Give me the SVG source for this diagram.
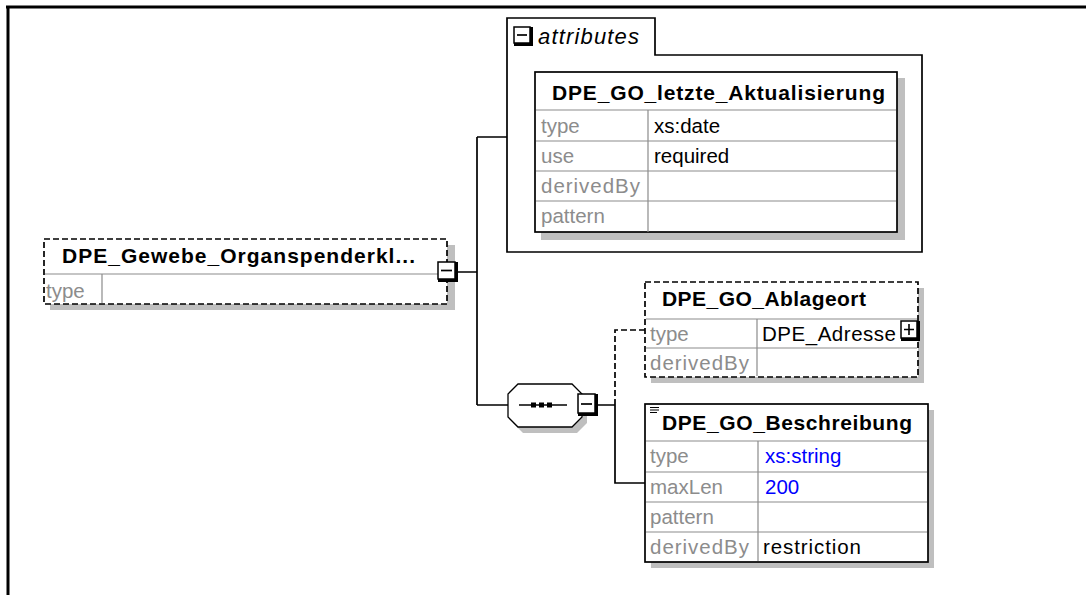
<svg xmlns="http://www.w3.org/2000/svg" width="1086" height="595" viewBox="0 0 1086 595">
<style>
text{font-family:"Liberation Sans",Arial,sans-serif;font-size:20.5px;fill:#000}
.h{font-weight:bold;font-size:21px}
.lbl{fill:#8c8c8c}
.blue{fill:#0000ff}
.box{fill:#fff;stroke:#000;stroke-width:1.7}
.dbox{fill:#fff;stroke:#000;stroke-width:1.7;stroke-dasharray:6 3}
.sh{fill:#bfbfbf}
.grid{stroke:#8c8c8c;stroke-width:1.2;fill:none}
.ln{stroke:#000;stroke-width:1.7;fill:none}
.dln{stroke:#000;stroke-width:1.7;fill:none;stroke-dasharray:6 3}
.btn{fill:#fff;stroke:#000;stroke-width:1.5}
.btnsh{fill:#000}
</style>
<rect width="1086" height="595" fill="#fff"/>
<g id="frame">
<line x1="6" y1="7" x2="1086" y2="7" stroke="#000" stroke-width="3"/>
<line x1="8" y1="6" x2="8" y2="595" stroke="#000" stroke-width="3"/>
</g>
<g id="connectors">
<path class="ln" d="M457,272 H477 M477,137 V405 M477,137 H507 M477,405 H508 M597,405 H615 M615,405 V483 H645"/>
<path class="dln" d="M615,405 V330 H645"/>
</g>
<g id="attributes">
<path d="M507,55 V18 H655 V55 H922 V252 H507 Z" fill="#fff" stroke="#000" stroke-width="1.7"/>
<rect x="514" y="27" width="19" height="19" class="btnsh"/>
<rect x="514" y="27" width="16" height="16" class="btn"/>
<line x1="517" y1="35" x2="527" y2="35" stroke="#000" stroke-width="1.7"/>
<text x="538" y="44" font-style="italic" style="font-size:22px" textLength="101">attributes</text>
</g>
<g id="letzte_Aktualisierung">
<rect x="541" y="78" width="364" height="162" class="sh"/>
<rect x="535" y="72" width="362" height="160" class="box"/>
<path class="grid" d="M536,110 H896 M536,141 H896 M536,171 H896 M536,201 H896 M648,110 V232"/>
<text x="552" y="100" class="h" textLength="333">DPE_GO_letzte_Aktualisierung</text>
<text x="541" y="133" class="lbl">type</text><text x="654" y="133">xs:date</text>
<text x="541" y="163" class="lbl">use</text><text x="654" y="163">required</text>
<text x="541" y="193" class="lbl" textLength="99">derivedBy</text>
<text x="541" y="223" class="lbl">pattern</text>
</g>
<g id="Gewebe_Organspenderkl">
<rect x="50" y="245" width="405" height="65" class="sh"/>
<rect x="44" y="239" width="403" height="65" class="dbox"/>
<path class="grid" d="M45,274 H446 M102,274 V303"/>
<text x="62" y="263" class="h" textLength="353">DPE_Gewebe_Organspenderkl...</text>
<text x="46" y="298" class="lbl">type</text>
<rect x="438" y="262" width="20" height="20" class="btnsh"/>
<rect x="438" y="262" width="17" height="17" class="btn"/>
<line x1="441" y1="270.5" x2="452" y2="270.5" stroke="#000" stroke-width="1.7"/>
</g>
<g id="sequence">
<path d="M523,389 H577 L587,399 V423 L577,433 H523 L513,423 V399 Z" class="sh"/>
<path d="M518,384 H572 L582,394 V417 L572,427 H518 L508,417 V394 Z" fill="#fff" stroke="#000" stroke-width="1.3"/>
<line x1="519" y1="405" x2="567" y2="405" stroke="#000" stroke-width="1.3"/>
<rect x="531" y="402.5" width="5" height="5"/><rect x="539" y="402.5" width="5" height="5"/><rect x="547" y="402.5" width="5" height="5"/>
<rect x="578" y="394" width="20" height="22" class="btnsh"/>
<rect x="578" y="394" width="17" height="19" class="btn"/>
<line x1="581" y1="404" x2="592" y2="404" stroke="#000" stroke-width="1.7"/>
</g>
<g id="Ablageort">
<rect x="651" y="288" width="273" height="95" class="sh"/>
<rect x="645" y="282" width="273" height="95" class="dbox"/>
<path class="grid" d="M646,319 H917 M646,348 H917 M757,319 V376"/>
<text x="662" y="306" class="h" textLength="204">DPE_GO_Ablageort</text>
<text x="650" y="341" class="lbl">type</text><text x="762" y="341" textLength="134">DPE_Adresse</text>
<text x="650" y="370" class="lbl" textLength="99">derivedBy</text>
<rect x="901" y="321" width="19" height="20" class="btnsh"/>
<rect x="901" y="321" width="16" height="17" class="btn"/>
<path d="M904,329.5 H914 M909,324 V335" stroke="#000" stroke-width="1.6"/>
</g>
<g id="Beschreibung">
<rect x="651" y="410" width="283" height="158" class="sh"/>
<rect x="645" y="404" width="283" height="158" class="box"/>
<path class="grid" d="M646,441 H927 M646,472 H927 M646,502 H927 M646,532 H927 M758,441 V561"/>
<path d="M650,407.5 H659 M650,410 H659 M650,412.5 H657" stroke="#000" stroke-width="1"/>
<text x="662" y="430" class="h" textLength="250">DPE_GO_Beschreibung</text>
<text x="650" y="463" class="lbl">type</text><text x="765" y="463" class="blue">xs:string</text>
<text x="650" y="494" class="lbl">maxLen</text><text x="765" y="494" class="blue">200</text>
<text x="650" y="524" class="lbl">pattern</text>
<text x="650" y="554" class="lbl" textLength="99">derivedBy</text><text x="763" y="554" textLength="98">restriction</text>
</g>
</svg>
